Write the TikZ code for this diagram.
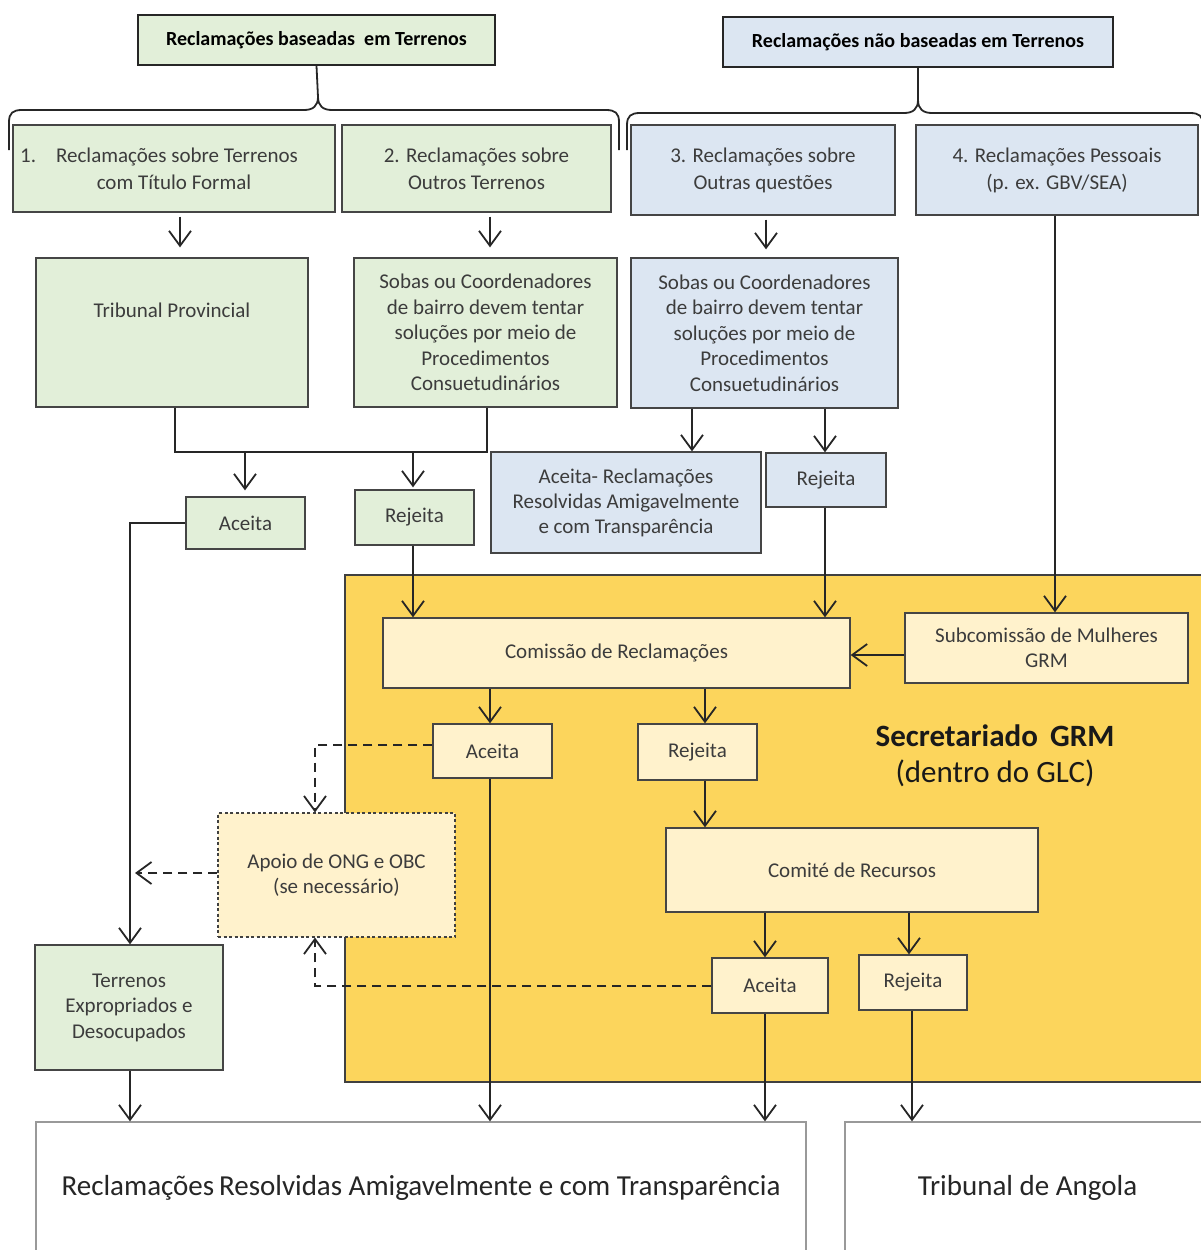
\documentclass[tikz,border=0pt]{standalone}
\usepackage{fontspec}
\setmainfont{Carlito}
\usetikzlibrary{arrows.meta,calc}
\definecolor{boxgreen}{HTML}{E2EFD9}
\definecolor{boxblue}{HTML}{DCE6F2}
\definecolor{boxcream}{HTML}{FFF2CC}
\definecolor{grmgold}{HTML}{FCD55C}
\definecolor{edge}{HTML}{454545}
\definecolor{txt}{HTML}{3C3C3C}
\begin{document}
\begin{tikzpicture}[x=1pt,y=-1pt,
  base/.style={draw=edge, line width=1.3pt, inner sep=2pt, align=center, text=txt,
    font=\fontsize{21}{25.5}\selectfont},
  sz/.style 2 args={minimum width=#1, minimum height=#2},
  gbox/.style={base, fill=boxgreen},
  bbox/.style={base, fill=boxblue},
  cbox/.style={base, fill=boxcream},
  wbox/.style={base, fill=white, draw=black!40},
  hdr/.style={draw=black!85, line width=1.6pt, inner sep=2pt, text=black,
    font=\fontsize{20}{24}\selectfont\bfseries},
  plain/.style={inner sep=0pt, align=center, text=txt},
  link/.style={line width=1.8pt, draw=black!85},
  arr/.style={link, -{Straight Barb[length=15pt,width=22pt,line width=1.8pt]}},
  dlink/.style={link, dash pattern=on 9pt off 6pt},
  darr/.style={dlink, -{Straight Barb[length=15pt,width=22pt,line width=1.8pt]}},
]
\useasboundingbox (0,0) rectangle (1200,1250);

% headers
\node[hdr, fill=boxgreen, sz={357}{50}] (hdrL) at (316.5,40) {Reclamações baseadas~\ em Terrenos};
\node[hdr, fill=boxblue, sz={390}{50}] (hdrR) at (918,42) {Reclamações não baseadas em Terrenos};

% braces
\coordinate (cuspL) at (318,97);
\coordinate (cuspR) at (918,100);
\draw[link] (9,150) -- (9,122) .. controls (9,113) and (13,110) .. (22,110) -- (304,110)
  .. controls (313,110) and (318,106) .. (cuspL)
  .. controls (318,106) and (323,110) .. (332,110) -- (606,110)
  .. controls (615,110) and (619,113) .. (619,122) -- (619,150);
\draw[link] (cuspL) -- (hdrL.south);
\draw[link] (627,150) -- (627,125) .. controls (627,116) and (631,113) .. (640,113) -- (904,113)
  .. controls (913,113) and (918,109) .. (cuspR)
  .. controls (918,109) and (923,113) .. (932,113) -- (1190,113)
  .. controls (1199,113) and (1203,116) .. (1203,125) -- (1203,150);
\draw[link] (cuspR) -- (hdrR.south);

% first row
\node[gbox, sz={322}{87}, font=\fontsize{21}{27}\selectfont] (b1) at (174,168.5)
  {\hspace*{-30pt}1.\hspace{20pt}Reclamações sobre Terrenos\\com Título Formal};
\node[gbox, sz={269}{87}, font=\fontsize{21}{27}\selectfont] (b2) at (476.5,168.5)
  {2. Reclamações sobre\\Outros Terrenos};
\node[bbox, sz={264}{90}, font=\fontsize{21}{27}\selectfont] (b3) at (763,170)
  {3. Reclamações sobre\\Outras questões};
\node[bbox, sz={282}{90}, font=\fontsize{21}{27}\selectfont] (b4) at (1057,170)
  {4. Reclamações Pessoais\\(p. ex. GBV/SEA)};

% second row
\node[gbox, sz={272}{149}] (trib) at (172,332.5) {};
\node[plain, font=\fontsize{21}{25.5}\selectfont] (tribtxt) at (172,310) {Tribunal Provincial};
\node[gbox, sz={263}{149}] (sobG) at (485.5,332.5)
  {Sobas ou Coordenadores\\de bairro devem tentar\\soluções por meio de\\Procedimentos\\Consuetudinários};
\node[bbox, sz={267}{150}] (sobB) at (764.5,333)
  {Sobas ou Coordenadores\\de bairro devem tentar\\soluções por meio de\\Procedimentos\\Consuetudinários};

\draw[arr, shorten >=10pt, shorten <=4pt] (180,0 |- b1.south) -- (180,0 |- trib.north);
\draw[arr, shorten >=10pt, shorten <=4pt] (490,0 |- b2.south) -- (490,0 |- sobG.north);
\draw[arr, shorten >=8pt, shorten <=4pt] (766,0 |- b3.south) -- (766,0 |- sobB.north);

% outcomes of the land claims
\node[gbox, sz={119}{52}] (acG) at (245.5,523) {Aceita};
\node[gbox, sz={119}{55}] (rjG) at (414.5,517.5) {Rejeita};
\coordinate (joinL) at (175,452);
\coordinate (joinR) at (487,452);
\draw[link] (175,0 |- trib.south) -- (joinL) -- (joinR) -- (487,0 |- sobG.south);
\draw[arr, shorten >=6pt] (245,452) -- (245,0 |- acG.north);
\draw[arr, shorten >=2pt] (413,452) -- (413,0 |- rjG.north);

% outcomes of the other claims
\node[bbox, sz={270}{101}, font=\fontsize{21}{25}\selectfont] (acB) at (626,502.5)
  {Aceita- Reclamações\\Resolvidas Amigavelmente\\e com Transparência};
\node[bbox, sz={120}{54}] (rjB) at (826,480) {Rejeita};
\draw[arr] (692,0 |- sobB.south) -- (692,0 |- acB.north);
\draw[arr] (825,0 |- sobB.south) -- (825,0 |- rjB.north);

% GRM secretariat area
\fill[grmgold] (345,575) rectangle (1210,1082);
\draw[line width=1.5pt, draw=black!75] (1210,575) -- (345,575) -- (345,1082) -- (1210,1082);
\node[plain, text=black!90, font=\fontsize{31}{36}\selectfont] (sec) at (995,756)
  {\textbf{Secretariado\, GRM}\\(dentro do GLC)};

\node[cbox, sz={467}{70}] (com) at (616.5,653) {Comissão de Reclamações};
\node[cbox, sz={283}{70}] (sub) at (1046.5,648) {Subcomissão de Mulheres\\GRM};
\draw[arr] (413,0 |- rjG.south) -- (413,0 |- com.north);
\draw[arr] (825,0 |- rjB.south) -- (825,0 |- com.north);
\draw[arr] (1055,0 |- b4.south) -- (1055,0 |- sub.north);
\draw[arr] (sub.west |- 0,655) -- (com.east |- 0,655);

\node[cbox, sz={119}{54}] (ac1) at (492.5,751) {Aceita};
\node[cbox, sz={119}{56}] (rj1) at (697.5,752) {Rejeita};
\draw[arr] (490,0 |- com.south) -- (490,0 |- ac1.north);
\draw[arr] (705,0 |- com.south) -- (705,0 |- rj1.north);

\node[cbox, sz={372}{84}] (comite) at (852,870) {Comité de Recursos};
\draw[arr] (705,0 |- rj1.south) -- (705,0 |- comite.north);

\node[cbox, sz={116}{55}] (ac2) at (770,985.5) {Aceita};
\node[cbox, sz={108}{55}] (rj2) at (913,982.5) {Rejeita};
\draw[arr] (765,0 |- comite.south) -- (765,0 |- ac2.north);
\draw[arr] (909,0 |- comite.south) -- (909,0 |- rj2.north);

% NGO support
\node[cbox, draw=black!75, line width=1.1pt, dash pattern=on 3pt off 2.5pt, sz={237}{124},
  font=\fontsize{21}{25}\selectfont] (apoio) at (336.5,875)
  {Apoio de ONG e OBC\\(se necessário)};
\coordinate (dA) at (315,745);
\coordinate (dB) at (315,986);
\coordinate (dC) at (135,873);
\draw[darr] (ac1.west |- dA) -- (dA) -- (315,0 |- apoio.north);
\draw[darr] (ac2.west |- dB) -- (dB) -- (315,0 |- apoio.south);
\draw[darr] (apoio.west |- dC) -- (dC);

% expropriated land
\node[gbox, sz={188}{125}] (terr) at (129,1007.5) {Terrenos\\Expropriados e\\Desocupados};
\coordinate (acTurn) at (130,523);
\draw[arr] (acG.west |- acTurn) -- (acTurn) -- (130,0 |- terr.north);

% final outcomes
\node[wbox, sz={770}{132}, text=black!85, font=\fontsize{29}{34}\selectfont] (res) at (421,1188)
  {Reclamações\,Resolvidas Amigavelmente e com Transparência};
\node[wbox, sz={365}{132}, text=black!85, font=\fontsize{29}{34}\selectfont] (tribA) at (1027.5,1188)
  {Tribunal de Angola};
\draw[arr] (130,0 |- terr.south) -- (130,0 |- res.north);
\draw[arr] (490,0 |- ac1.south) -- (490,0 |- res.north);
\draw[arr] (765,0 |- ac2.south) -- (765,0 |- res.north);
\draw[arr] (912,0 |- rj2.south) -- (912,0 |- tribA.north);
\end{tikzpicture}
\end{document}
